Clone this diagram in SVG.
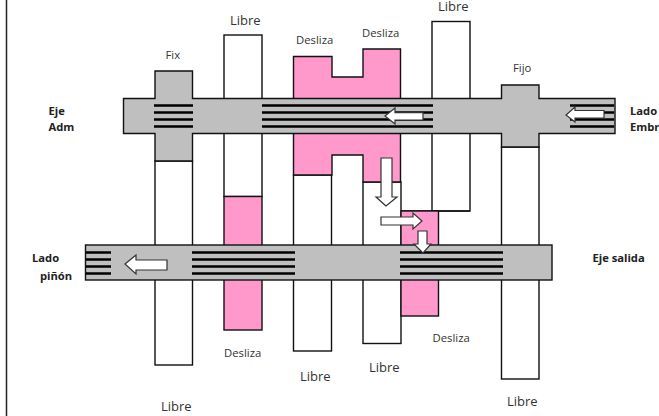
<svg xmlns="http://www.w3.org/2000/svg" width="659" height="416" viewBox="0 0 659 416">
<style>
text{font-family:"Open Sans","Noto Sans","DejaVu Sans",sans-serif;fill:#333;font-size:11.3px}
.b{font-weight:bold;fill:#222;font-size:11.2px}
.big{font-size:13px}
.s{stroke:#111;stroke-width:1.4;fill:#fff}
.p{fill:#ff99cc}
.g{fill:#bfbfbf}
.st{stroke:#000;stroke-width:2.4;fill:none}
.a{fill:#fff;stroke:#333;stroke-width:1.2}
</style>
<rect width="659" height="416" fill="#fff"/>
<line x1="6.5" y1="0" x2="6.5" y2="416" stroke="#222" stroke-width="1.5"/>
<g id="gear-libre-1"><rect class="s" x="155" y="161" width="37.5" height="204"/></g>
<g id="gear-libre-2"><rect class="s" x="224" y="35" width="38" height="161.500"/><rect class="s p" x="224" y="196.500" width="38" height="133.500"/></g>
<g id="gear-libre-3"><rect class="s" x="293.500" y="175" width="38" height="176"/></g>
<g id="gear-libre-4"><rect class="s" x="363" y="182" width="38" height="161.500"/></g>
<g id="gear-desliza"><path class="s p" d="M293.500 56.500H332V77H363V49H400.500V182H363V155H332V175H293.500Z"/></g>
<g id="gear-libre-5"><rect class="s" x="432" y="21.500" width="38" height="189.500"/><line x1="401" y1="211" x2="470" y2="211" stroke="#111" stroke-width="1.400"/></g>
<g id="gear-desliza-2"><rect class="s p" x="401" y="211" width="37.500" height="105"/></g>
<g id="gear-fijo-low"><rect class="s" x="501.500" y="147" width="37.500" height="232"/></g>

<g id="shaft-adm"><path class="g" stroke="#111" stroke-width="1.400" d="M123.500 98.500H155V71H192.500V98.500H501.500V85H539V98.500H615V133.500H539V147H501.500V133.500H192.500V161H155V133.500H123.500Z"/></g>
<g id="shaft-salida"><rect class="g" stroke="#111" stroke-width="1.400" x="85.500" y="245" width="466.500" height="35"/></g>

<g id="stripes" class="st">
<path d="M154 105.500H193M154 112.500H193M154 119.500H193M154 126.500H193"/>
<path d="M262 105.500H433M262 112.500H433M262 119.500H433M262 126.500H433"/>
<path d="M570 105.500H614M570 112.500H614M570 119.500H614M570 126.500H614"/>
<path d="M86 252.500H111M86 259.500H111M86 266.500H111M86 273.500H111"/>
<path d="M192 252.500H295M192 259.500H295M192 266.500H295M192 273.500H295"/>
<path d="M400 252.500H503M400 259.500H503M400 266.500H503M400 273.500H503"/>
</g>

<g id="connectors">
<path class="a" d="M385 116L395 108V112.700H423V120H395V124Z"/>
<path class="a" d="M566 115L575 107V110.500H604V118H575V122Z"/>
<path class="a" d="M125 264L136 255V260H167V270H136V274Z"/>
<path class="a" d="M386 206L376 197H381V158H392V197H397Z"/>
<path class="a" d="M422 221L413 213V217H381V225H413V229Z"/>
<path class="a" d="M423 253L414 244H418V231H427V244H431Z"/>
</g>

<g id="labels">
<text x="165.500" y="59">Fix</text>
<text class="big" x="230" y="25">Libre</text>
<text x="296" y="44">Desliza</text>
<text x="362" y="37">Desliza</text>
<text class="big" x="438" y="11">Libre</text>
<text x="513" y="72">Fijo</text>
<text class="b" x="48.500" y="115">Eje</text>
<text class="b" x="48.500" y="131">Adm</text>
<text class="b" x="630" y="115">Lado</text>
<text class="b" x="630" y="131">Embr</text>
<text class="b" x="32" y="262">Lado</text>
<text class="b" x="40" y="280">piñón</text>
<text class="b" x="592.500" y="262">Eje salida</text>
<text x="224" y="357">Desliza</text>
<text class="big" x="300" y="381">Libre</text>
<text class="big" x="369" y="372">Libre</text>
<text x="432.500" y="342">Desliza</text>
<text class="big" x="161" y="411">Libre</text>
<text class="big" x="507" y="405.500">Libre</text>
</g>
</svg>
